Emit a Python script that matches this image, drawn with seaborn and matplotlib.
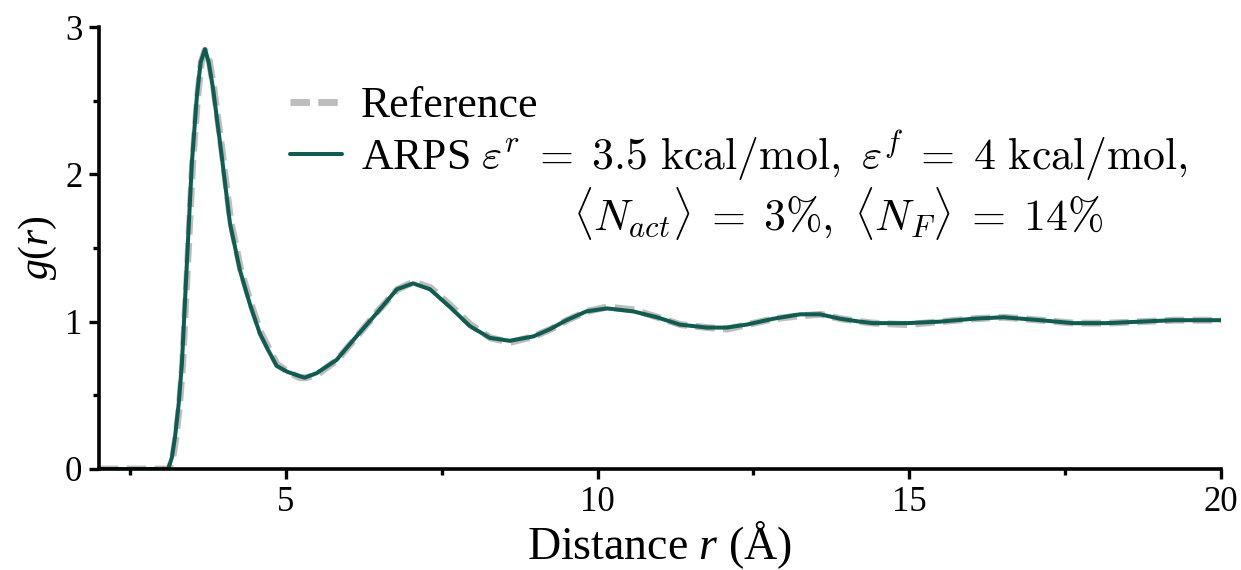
import numpy as np
import pandas as pd
import matplotlib
matplotlib.use("Agg")
import matplotlib.pyplot as plt
import seaborn as sns

# ---- data ----
r_arps = [2.00, 2.50, 3.00, 3.11, 3.17, 3.22, 3.28, 3.33, 3.41, 3.49, 3.57, 3.63,
          3.70, 3.76, 3.83, 3.97, 4.10, 4.26, 4.42, 4.58, 4.71, 4.85, 5.02, 5.22,
          5.30, 5.49, 5.81, 6.13, 6.46, 6.78, 7.04, 7.31, 7.63, 7.95, 8.27, 8.59,
          8.97, 9.24, 9.50, 9.82, 10.15, 10.57, 10.95, 11.32, 11.75, 12.07, 12.39,
          12.82, 13.25, 13.57, 13.89, 14.21, 14.42, 14.96, 15.49, 16.03, 16.51,
          17.10, 17.63, 18.17, 18.70, 19.24, 20.00]
g_arps = [0.00, 0.00, 0.00, 0.00, 0.08, 0.22, 0.45, 0.72, 1.40, 2.08, 2.53, 2.76,
          2.85, 2.76, 2.58, 2.12, 1.67, 1.35, 1.12, 0.92, 0.81, 0.70, 0.66, 0.63,
          0.62, 0.65, 0.74, 0.90, 1.06, 1.22, 1.26, 1.22, 1.10, 0.97, 0.89, 0.87,
          0.90, 0.95, 1.01, 1.07, 1.09, 1.07, 1.03, 0.98, 0.96, 0.96, 0.98,
          1.02, 1.05, 1.05, 1.02, 1.00, 0.99, 0.99, 1.00, 1.02, 1.03,
          1.01, 0.99, 0.99, 1.00, 1.01, 1.01]

r_ref = [2.00, 2.50, 3.00, 3.12, 3.18, 3.23, 3.29, 3.34, 3.42, 3.50, 3.58, 3.64,
         3.70, 3.77, 3.84, 3.98, 4.11, 4.27, 4.43, 4.59, 4.72, 4.86, 5.03, 5.22,
         5.32, 5.50, 5.82, 6.14, 6.47, 6.79, 7.05, 7.32, 7.64, 7.96, 8.28, 8.60,
         8.98, 9.25, 9.51, 9.83, 10.16, 10.58, 10.96, 11.33, 11.76, 12.08, 12.40,
         12.83, 13.26, 13.58, 13.90, 14.22, 14.43, 14.97, 15.50, 16.04, 16.52,
         17.11, 17.64, 18.18, 18.71, 19.25, 20.00]
g_ref = [0.00, 0.00, 0.00, 0.00, 0.07, 0.20, 0.43, 0.70, 1.38, 2.06, 2.52, 2.76,
         2.84, 2.77, 2.59, 2.14, 1.69, 1.36, 1.13, 0.93, 0.82, 0.71, 0.66, 0.62,
         0.62, 0.64, 0.74, 0.90, 1.07, 1.22, 1.27, 1.23, 1.11, 0.98, 0.89, 0.86,
         0.90, 0.95, 1.01, 1.07, 1.10, 1.08, 1.03, 0.98, 0.96, 0.95, 0.98,
         1.02, 1.04, 1.05, 1.02, 1.00, 0.99, 0.98, 1.00, 1.02, 1.03,
         1.01, 0.99, 0.99, 1.00, 1.01, 1.01]

label_ref = "Reference"
label_arps = (r"ARPS $\varepsilon^r \;=\; 3.5\ \mathrm{kcal/mol},\ "
              r"\varepsilon^f \;=\; 4\ \mathrm{kcal/mol},$")
label_arps2 = r"$\langle N_{act}\rangle \;=\; 3\%,\ \langle N_F\rangle \;=\; 14\%$"
x_label = r"Distance $r$ (Å)"
y_label = r"$g(r)$"

# ---- style ----
sns.set_style("ticks")
plt.rcParams["font.family"] = ["Liberation Serif", "DejaVu Serif"]
plt.rcParams["mathtext.fontset"] = "custom"
plt.rcParams["mathtext.rm"] = "Liberation Serif"
plt.rcParams["mathtext.it"] = "Liberation Serif:italic"
plt.rcParams["text.color"] = "black"
plt.rcParams["axes.labelcolor"] = "black"

fig = plt.figure(figsize=(12.41, 5.70), dpi=100)
ax = fig.add_axes([0.0798, 0.1772, 0.904, 0.7754])

df_ref = pd.DataFrame({"r": r_ref, "g": g_ref})
df_arps = pd.DataFrame({"r": r_arps, "g": g_arps})

sns.lineplot(data=df_ref, x="r", y="g", ax=ax, color="#bdbdbd", linewidth=5.0,
             label=label_ref, sort=False)
ax.lines[-1].set_dashes([2.8, 1.2])
sns.lineplot(data=df_arps, x="r", y="g", ax=ax, color="#0d5e50", linewidth=2.9,
             label=label_arps, sort=False)

ax.set_xlim(2, 20)
ax.set_ylim(0, 3)
ax.set_xticks([5, 10, 15, 20])
ax.set_xticks([2.5, 7.5, 12.5, 17.5], minor=True)
ax.set_yticks([0, 1, 2, 3])
ax.set_yticks([0.5, 1.5, 2.5], minor=True)

for s in ["top", "right"]:
    ax.spines[s].set_visible(False)
for s in ["left", "bottom"]:
    ax.spines[s].set_linewidth(2.6)
    ax.spines[s].set_color("black")

ax.tick_params(axis="both", which="major", direction="out", length=7, width=2.4,
               labelsize=25, pad=5, colors="black")
ax.tick_params(axis="both", which="minor", direction="out", length=4, width=2.4,
               colors="black")

ax.set_xlabel(x_label, fontsize=33, labelpad=0)
ax.set_ylabel(y_label, fontsize=30, labelpad=4)

leg = ax.legend(loc="upper left", bbox_to_anchor=(0.17, 0.866), frameon=False,
                fontsize=31.5, handlelength=1.2, handletextpad=0.43,
                labelspacing=0.05, borderaxespad=0, borderpad=0)
for t in leg.get_texts():
    t.set_math_fontfamily("cm")
t2 = ax.text(0.4225, 0.579, label_arps2, transform=ax.transAxes, fontsize=31.5,
             ha="left", va="center", color="black")
t2.set_math_fontfamily("cm")

fig.savefig("out.png", dpi=100)
